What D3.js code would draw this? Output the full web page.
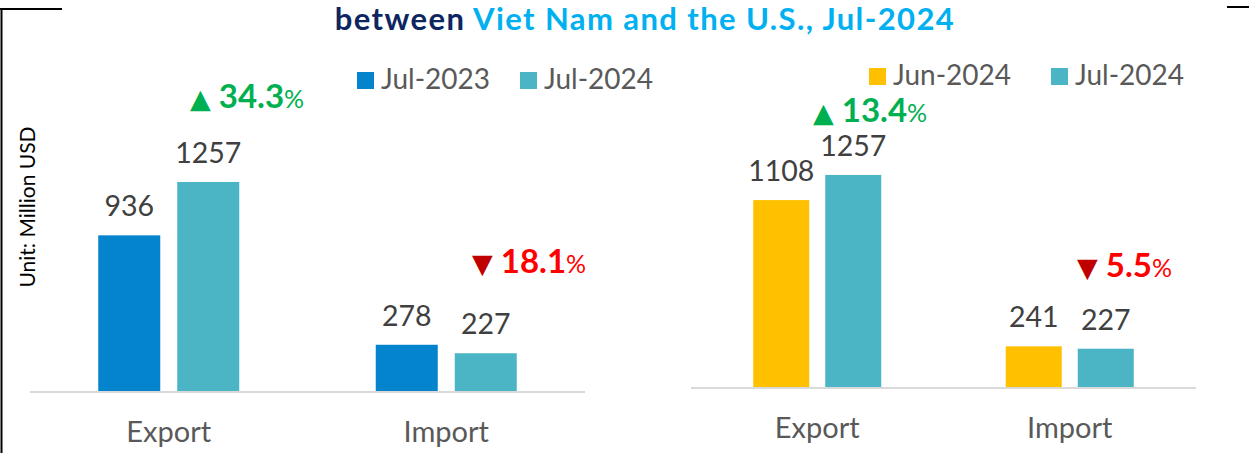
<!DOCTYPE html>
<html>
<head>
<meta charset="utf-8">
<script src="https://cdn.jsdelivr.net/npm/d3@7"></script>
<style>
  body { margin: 0; background: #fff; }
  svg text { font-family: Lato, "Open Sans", sans-serif; }
</style>
</head>
<body>
<div id="chart"></div>
<script>
// global data, kept small and on top
var categories = ["Export", "Import"];
var leftSeries = ["Jul-2023", "Jul-2024"];
var leftExport = [936, 1257];
var leftImport = [278, 227];
var rightSeries = ["Jun-2024", "Jul-2024"];
var rightExport = [1108, 1257];
var rightImport = [241, 227];
var leftChanges = ["34.3", "18.1"];   // export up, import down
var rightChanges = ["13.4", "5.5"];
var changeDirs = ["up", "down"];

var Width = 1249;
var Height = 453;
var colors = { "Jul-2023": "#0484cc", "Jul-2024": "#4bb4c5", "Jun-2024": "#ffc000" };

var svg = d3.select("#chart").append("svg")
    .attr("width", Width)
    .attr("height", Height);

// frame bits cut from the original slide
svg.append("path").attr("d", "M0,9H62M1.5,9V453")
    .attr("stroke", "#000").attr("stroke-width", 2).attr("fill", "none");
svg.append("path").attr("d", "M1227,7H1249")
    .attr("stroke", "#000").attr("stroke-width", 2).attr("fill", "none");

// title (second line of it)
var title = svg.append("text")
    .attr("x", 645).attr("y", 30)
    .attr("text-anchor", "middle")
    .attr("font-size", "31px")
    .attr("letter-spacing", "1.4px")
    .attr("font-weight", "bold");
title.append("tspan").attr("fill", "#0d2560").text("between ");
title.append("tspan").attr("fill", "#00b0f0").text("Viet Nam and the U.S., Jul-2024");

// axis unit label
svg.append("text")
    .attr("transform", "translate(35,207) rotate(-90)")
    .attr("text-anchor", "middle")
    .attr("font-size", "21px")
    .attr("fill", "#000")
    .text("Unit: Million USD");

function drawPanel(cfg) {
    var x0 = d3.scaleBand().domain(categories).range(cfg.xRange);
    var y = d3.scaleLinear().domain([0, 1400]).range([cfg.base, cfg.base - 1400 * cfg.k]);
    var values = [cfg.exportVals, cfg.importVals];

    // baseline
    svg.append("line")
        .attr("x1", cfg.xRange[0]).attr("x2", cfg.xRange[1])
        .attr("y1", cfg.base + 1).attr("y2", cfg.base + 1)
        .attr("stroke", "#d9d9d9").attr("stroke-width", 2);

    categories.forEach(function(cat, ci) {
        var c = x0(cat) + x0.bandwidth() / 2;
        var half = cfg.barW + cfg.gap / 2;
        var x1 = d3.scaleBand().domain(cfg.series)
            .range([c - half, c + half])
            .paddingInner(cfg.gap / (cfg.barW + cfg.gap));
        var rows = cfg.series.map(function(s, i) { return { s: s, v: values[ci][i] }; });

        var g = svg.append("g");
        g.selectAll("rect").data(rows).enter().append("rect")
            .attr("x", function(d) { return x1(d.s); })
            .attr("y", function(d) { return y(d.v); })
            .attr("width", x1.bandwidth())
            .attr("height", function(d) { return cfg.base - y(d.v); })
            .attr("fill", function(d) { return colors[d.s]; });
        g.selectAll("text.val").data(rows).enter().append("text")
            .attr("class", "val")
            .attr("x", function(d) { return x1(d.s) + x1.bandwidth() / 2; })
            .attr("y", function(d) { return y(d.v) - 19; })
            .attr("text-anchor", "middle")
            .attr("font-size", "28.5px")
            .attr("fill", "#404040")
            .text(function(d) { return d.v; });

        // category label
        svg.append("text")
            .attr("x", c).attr("y", cfg.catY)
            .attr("text-anchor", "middle")
            .attr("font-size", "29px")
            .attr("fill", "#595959")
            .text(cat);

        // percent change note
        var up = changeDirs[ci] === "up";
        var p = cfg.notes[ci];
        var t = svg.append("text").attr("x", p[0]).attr("y", p[1])
            .attr("font-size", "33px").attr("font-weight", "bold");
        t.append("tspan").attr("fill", up ? "#00b050" : "#c00000")
            .attr("font-size", "27px")
            .attr("font-family", "DejaVu Sans")
            .text(up ? "\u25B2" : "\u25BC");
        t.append("tspan").attr("dx", 8).attr("fill", up ? "#00b050" : "#ff0000")
            .text(cfg.changes[ci]);
        t.append("tspan").attr("fill", up ? "#00b050" : "#ff0000")
            .attr("font-size", "25px").attr("font-weight", "normal")
            .text("%");
    });

    // legend
    cfg.series.forEach(function(s, i) {
        var lx = cfg.legendX[i];
        svg.append("rect")
            .attr("x", lx).attr("y", cfg.legendY - 17)
            .attr("width", 17).attr("height", 17)
            .attr("fill", colors[s]);
        svg.append("text")
            .attr("x", lx + 24).attr("y", cfg.legendY)
            .attr("font-size", "28px")
            .attr("fill", "#595959")
            .text(s);
    });
}

drawPanel({
    series: leftSeries, exportVals: leftExport, importVals: leftImport,
    changes: leftChanges,
    xRange: [30, 585], base: 391, k: 0.1663,
    barW: 62, gap: 17, catY: 442,
    notes: [[190, 108], [472, 273]],
    legendX: [357, 520], legendY: 89
});

drawPanel({
    series: rightSeries, exportVals: rightExport, importVals: rightImport,
    changes: rightChanges,
    xRange: [691, 1196], base: 387, k: 0.1687,
    barW: 56, gap: 16, catY: 438,
    notes: [[813, 122], [1077, 277]],
    legendX: [869, 1051], legendY: 85
});
</script>
</body>
</html>
